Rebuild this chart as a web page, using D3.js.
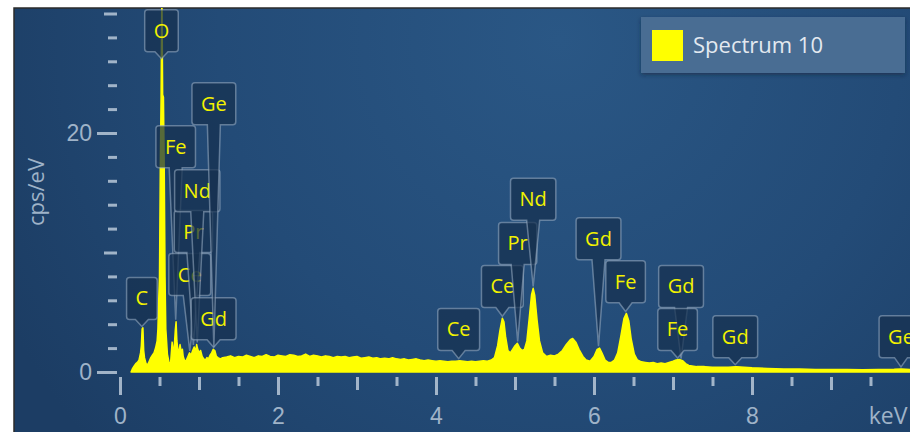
<!DOCTYPE html>
<html>
<head>
<meta charset="utf-8">
<script src="https://cdn.jsdelivr.net/npm/d3@7"></script>
<style>
    html, body { margin: 0; padding: 0; background: #ffffff; }
    svg        { display: block; font-family: "Segoe UI", "Open Sans", "Noto Sans", sans-serif; }
</style>
</head>
<body>
<svg id="spectrum_plot" width="910" height="432"></svg>
<script>
// spectrum (keV / cps per eV)
const energies = [
    0.14, 0.16, 0.18, 0.20, 0.22, 0.24, 0.26, 0.27, 0.28, 0.29, 0.30, 0.31, 0.33, 0.35, 0.37, 0.39,
    0.41, 0.43, 0.45, 0.47, 0.48, 0.49, 0.50, 0.51, 0.52, 0.53, 0.54, 0.55, 0.56, 0.57, 0.58, 0.60,
    0.62, 0.64, 0.66, 0.68, 0.70, 0.71, 0.72, 0.74, 0.76, 0.78, 0.79, 0.80, 0.82, 0.84, 0.86, 0.88,
    0.90, 0.92, 0.94, 0.96, 0.97, 0.98, 1.00, 1.02, 1.04, 1.06, 1.08, 1.10, 1.12, 1.14, 1.16, 1.18,
    1.20, 1.22, 1.24, 1.27, 1.30, 1.35, 1.40, 1.45, 1.50, 1.55, 1.60, 1.65, 1.70, 1.75, 1.80, 1.85,
    1.90, 1.95, 2.00, 2.05, 2.10, 2.15, 2.20, 2.25, 2.30, 2.35, 2.40, 2.45, 2.50, 2.55, 2.60, 2.65,
    2.70, 2.75, 2.80, 2.85, 2.90, 2.95, 3.00, 3.05, 3.10, 3.15, 3.20, 3.25, 3.30, 3.35, 3.40, 3.45,
    3.50, 3.55, 3.60, 3.65, 3.70, 3.75, 3.80, 3.85, 3.90, 3.95, 4.00, 4.05, 4.10, 4.15, 4.20, 4.25,
    4.30, 4.35, 4.40, 4.45, 4.50, 4.55, 4.60, 4.65, 4.70, 4.74, 4.78, 4.81, 4.84, 4.86, 4.88, 4.91,
    4.94, 4.97, 5.00, 5.03, 5.06, 5.09, 5.12, 5.15, 5.18, 5.21, 5.23, 5.25, 5.28, 5.31, 5.35, 5.40,
    5.45, 5.50, 5.55, 5.60, 5.65, 5.70, 5.73, 5.77, 5.81, 5.86, 5.90, 5.95, 6.00, 6.04, 6.07, 6.10,
    6.14, 6.18, 6.22, 6.26, 6.30, 6.34, 6.38, 6.41, 6.44, 6.47, 6.51, 6.55, 6.60, 6.65, 6.70, 6.75,
    6.80, 6.85, 6.90, 6.95, 7.00, 7.04, 7.08, 7.12, 7.16, 7.20, 7.30, 7.40, 7.50, 7.60, 7.70, 7.80,
    7.90, 8.00, 8.20, 8.40, 8.60, 8.80, 9.00, 9.20, 9.40, 9.60, 9.80, 9.89, 10.0
];
const counts = [
    0.0,  0.3,  0.5,  0.7,  0.8,  1.0,  1.6,  2.2,  3.6,  3.7,  1.8,  1.2,  0.7,  0.6,  0.9,  1.2,
    1.4,  1.6,  2.0,  2.6,  3.6,  6.0,  8.0,  17.0, 23.0, 32.0, 23.2, 23.0, 17.0, 8.0,  3.6,  1.5,
    0.8,  0.7,  2.5,  1.4,  3.5,  4.2,  2.6,  1.4,  2.3,  1.5,  1.9,  1.3,  0.9,  1.0,  1.3,  1.6,
    1.4,  1.8,  2.1,  1.7,  2.3,  2.0,  1.6,  1.8,  1.3,  1.1,  1.0,  1.2,  1.1,  1.4,  1.6,  1.9,
    1.8,  1.3,  1.2,  1.1,  1.2,  1.25, 1.35, 1.2,  1.3,  1.25, 1.4,  1.3,  1.2,  1.35, 1.3,  1.45,
    1.3,  1.25, 1.4,  1.35, 1.3,  1.45, 1.4,  1.3,  1.35, 1.5,  1.3,  1.4,  1.35, 1.25, 1.35, 1.3,
    1.2,  1.3,  1.25, 1.3,  1.2,  1.25, 1.3,  1.15, 1.2,  1.25, 1.15, 1.2,  1.1,  1.15, 1.1,  1.2,
    1.1,  1.05, 1.1,  1.0,  1.05, 1.1,  1.0,  0.95, 1.0,  0.95, 0.9,  0.95, 0.9,  0.85, 0.9,  0.9,
    0.95, 0.9,  0.85, 0.9,  0.85, 0.9,  0.95, 0.9,  1.0,  1.2,  2.2,  3.5,  4.5,  4.2,  3.0,  1.8,
    1.6,  1.9,  2.2,  2.4,  2.0,  1.8,  1.9,  2.6,  4.5,  6.5,  7.0,  6.4,  4.3,  2.6,  1.6,  1.3,
    1.4,  1.35, 1.5,  1.8,  2.3,  2.7,  2.8,  2.5,  1.9,  1.3,  1.0,  0.9,  1.3,  1.9,  2.0,  1.6,
    1.0,  0.8,  0.8,  1.0,  1.6,  3.0,  4.5,  4.9,  4.3,  2.8,  1.5,  1.0,  0.85, 0.8,  0.75, 0.8,
    0.7,  0.75, 0.7,  0.8,  0.9,  1.0,  1.05, 0.95, 0.7,  0.55, 0.45, 0.45, 0.4,  0.4,  0.4,  0.45,
    0.4,  0.35, 0.3,  0.25, 0.25, 0.2,  0.2,  0.2,  0.18, 0.2,  0.22, 0.25, 0.2
];

// element callouts: name, line energy (keV), box bottom in cps/eV
const peakNames     = ["O",   "C",   "Fe",  "Ce",  "Pr",  "Nd",  "Gd",  "Ge",
                       "Ce",  "Ce",  "Pr",  "Nd",  "Gd",  "Fe",  "Gd",  "Fe",  "Gd",  "Ge"];
const peakEnergies  = [0.525, 0.277, 0.705, 0.883, 0.929, 0.978, 1.185, 1.188,
                       4.287, 4.840, 5.034, 5.230, 6.057, 6.400, 7.102, 7.058, 7.788, 9.886];
const peakBoxLevels = [26.8,  4.4,   17.1,  6.4,   10.0,  13.4,  2.7,   20.7,
                       1.8,   5.4,   9.0,   12.7,  9.4,   5.8,   5.4,   1.8,   1.2,   1.2];

const xTickValues = [0, 2, 4, 6, 8];
const yTickValues = [0, 20];
const xAxisLabel  = "keV";
const yAxisLabel  = "cps/eV";
const seriesName  = "Spectrum 10";

// the following code is used to set up the panel
const svg    = d3.select("#spectrum_plot");
const width  = +svg.attr("width");
const height = +svg.attr("height");

const panel = { left: 14, top: 8 };

const AxisScaleX = d3.scaleLinear().domain([0, 10]).range([120, 910]);
const AxisScaleY = d3.scaleLinear().domain([0, 20]).range([372, 133]);

const defs = svg.append("defs");

const bg = defs.append("radialGradient")
    .attr("id",            "panel_bg")
    .attr("gradientUnits", "userSpaceOnUse")
    .attr("cx", 560).attr("cy", 40).attr("r", 620);
bg.append("stop").attr("offset", "0%").attr("stop-color",   "#2a5785");
bg.append("stop").attr("offset", "55%").attr("stop-color",  "#234b77");
bg.append("stop").attr("offset", "100%").attr("stop-color", "#1c3d64");

defs.append("clipPath").attr("id", "panel_clip")
    .append("rect")
    .attr("x", panel.left).attr("y", panel.top)
    .attr("width", width - panel.left).attr("height", height - panel.top);

const shadow = defs.append("filter").attr("id", "legend_shadow")
    .attr("x", "-10%").attr("y", "-20%").attr("width", "120%").attr("height", "160%");
shadow.append("feDropShadow")
    .attr("dx", 0).attr("dy", 2).attr("stdDeviation", 2)
    .attr("flood-color", "#0a1a30").attr("flood-opacity", 0.5);

svg.append("rect")
    .attr("x",      panel.left)
    .attr("y",      panel.top)
    .attr("width",  width - panel.left + 2)
    .attr("height", height - panel.top + 2)
    .attr("fill",   "url(#panel_bg)")
    .attr("stroke", "#2b2b2b")
    .attr("stroke-width", 1.5);

const plot = svg.append("g").attr("clip-path", "url(#panel_clip)");

// the following code is used to draw the axes
const tickColor = "#b9c8d8";
const textColor = "#9fb3c8";

function drawAxis(axis, transform, withText)
{
    const g = plot.append("g")
        .attr("transform", transform)
        .call(axis);
    g.selectAll(".domain").remove();
    g.selectAll("line")
        .attr("stroke",       tickColor)
        .attr("stroke-width", 3)
        .attr("opacity",      0.85);
    if (withText)
    {
        g.selectAll("text")
            .attr("fill",        textColor)
            .attr("font-size",   23)
            .attr("font-family", null);
    }
    else
    {
        g.selectAll("text").remove();
    }
    return g;
}

const yMinor = d3.range(2, 31, 2).filter(v => v % 10 !== 0);
drawAxis(d3.axisLeft(AxisScaleY).tickValues(yMinor).tickSize(9),       "translate(117,0)", false);
drawAxis(d3.axisLeft(AxisScaleY).tickValues([10, 30]).tickSize(13),    "translate(117,0)", false);
drawAxis(d3.axisLeft(AxisScaleY).tickValues(yTickValues).tickSize(20).tickPadding(5),
         "translate(117,0)", true);

const xMinor = d3.range(0.5, 10, 0.5).filter(v => v % 1 !== 0);
drawAxis(d3.axisBottom(AxisScaleX).tickValues(xMinor).tickSize(9),          "translate(0,377)", false);
drawAxis(d3.axisBottom(AxisScaleX).tickValues([1, 3, 5, 7, 9]).tickSize(13), "translate(0,377)", false);
drawAxis(d3.axisBottom(AxisScaleX).tickValues(xTickValues).tickSize(18).tickPadding(13),
         "translate(0,377)", true);

plot.append("text")
    .attr("x",           888)
    .attr("y",           424)
    .attr("text-anchor", "middle")
    .attr("fill",        textColor)
    .attr("font-size",   23)
    .text(xAxisLabel);

plot.append("text")
    .attr("transform",   "translate(44,192) rotate(-90)")
    .attr("text-anchor", "middle")
    .attr("fill",        textColor)
    .attr("font-size",   22)
    .text(yAxisLabel);

// the following code is used to draw the spectrum
const spectrum = energies.map((e, i) => [e, counts[i]]);

const area = d3.area()
    .x(d => AxisScaleX(d[0]))
    .y0(AxisScaleY(0))
    .y1(d => AxisScaleY(d[1]));

plot.append("path")
    .datum(spectrum)
    .attr("d",               area)
    .attr("fill",            "#ffff00")
    .attr("stroke",          "#ffff00")
    .attr("stroke-width",    1.5)
    .attr("stroke-linejoin", "round");

// the following code is used to draw the element callouts
function peakTop(e)
{
    const near = spectrum.filter(d => Math.abs(d[0] - e) <= 0.02);
    return d3.max(near, d => d[1]);
}

const boxHeight = 42;
const tailWidth = 13;
const radius    = 3;

const callouts = plot.selectAll(".callout")
    .data(peakNames.map((name, i) => ({ name: name, e: peakEnergies[i], level: peakBoxLevels[i] })))
    .enter().append("g")
    .attr("class", "callout");

callouts.each(function(d)
{
    const g      = d3.select(this);
    const cx     = AxisScaleX(d.e);
    const bottom = AxisScaleY(d.level);
    const top    = bottom - boxHeight;
    const tipY   = Math.max(AxisScaleY(peakTop(d.e)) - 2, bottom + 7);

    const path = g.append("path");
    const text = g.append("text")
        .attr("x",           cx)
        .attr("y",           top + 28)
        .attr("text-anchor", "middle")
        .attr("fill",        "#f2f200")
        .attr("font-size",   20)
        .text(d.name);

    const w  = text.node().getComputedTextLength() + 18;
    const x0 = cx - w / 2;
    const x1 = cx + w / 2;

    const p = d3.path();
    p.moveTo(x0 + radius, top);
    p.lineTo(x1 - radius, top);
    p.quadraticCurveTo(x1, top, x1, top + radius);
    p.lineTo(x1, bottom - radius);
    p.quadraticCurveTo(x1, bottom, x1 - radius, bottom);
    p.lineTo(cx + tailWidth / 2, bottom);
    p.lineTo(cx, tipY);
    p.lineTo(cx - tailWidth / 2, bottom);
    p.lineTo(x0 + radius, bottom);
    p.quadraticCurveTo(x0, bottom, x0, bottom - radius);
    p.lineTo(x0, top + radius);
    p.quadraticCurveTo(x0, top, x0 + radius, top);
    p.closePath();

    path.attr("d",              p.toString())
        .attr("fill",           "#16314f")
        .attr("fill-opacity",   0.72)
        .attr("stroke",         "#9db0c6")
        .attr("stroke-opacity", 0.55)
        .attr("stroke-width",   1.5);
});

// the following code is used to draw the legend
const legend = svg.append("g").attr("transform", "translate(641,17)");

legend.append("rect")
    .attr("width",  264)
    .attr("height", 56)
    .attr("fill",   "#4a6d93")
    .attr("filter", "url(#legend_shadow)");

legend.append("rect")
    .attr("x",      11)
    .attr("y",      13)
    .attr("width",  31)
    .attr("height", 31)
    .attr("fill",   "#ffff00");

legend.append("text")
    .attr("x",         52)
    .attr("y",         36)
    .attr("fill",      "#e3e9f0")
    .attr("font-size", 22)
    .text(seriesName);
</script>
</body>
</html>
